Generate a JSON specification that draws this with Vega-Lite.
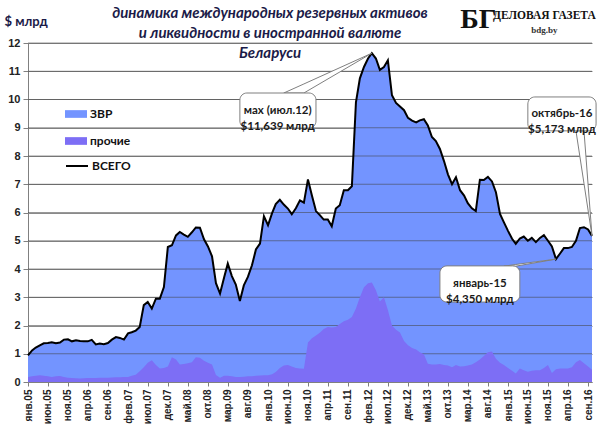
{
  "$schema": "https://vega.github.io/schema/vega-lite/v6.json",
  "width": 564,
  "height": 339,
  "autosize": {"type": "none"},
  "padding": {"left": 28, "top": 43, "right": 8, "bottom": 47},
  "background": "white",
  "title": {
    "text": ["динамика  международных резервных активов", "и ликвидности в иностранной валюте", "Беларуси"],
    "anchor": "middle",
    "dx": -40,
    "offset": -55,
    "font": "Lato",
    "fontSize": 15,
    "fontStyle": "italic",
    "fontWeight": "bold",
    "color": "#1b1b48",
    "lineHeight": 20
  },
  "datasets": {
    "series": [
      {"d": "2005-01", "total": 0.94, "other": 0.18},
      {"d": "2005-02", "total": 1.12, "other": 0.20},
      {"d": "2005-03", "total": 1.22, "other": 0.22},
      {"d": "2005-04", "total": 1.30, "other": 0.24},
      {"d": "2005-05", "total": 1.37, "other": 0.22},
      {"d": "2005-06", "total": 1.38, "other": 0.20},
      {"d": "2005-07", "total": 1.41, "other": 0.18},
      {"d": "2005-08", "total": 1.37, "other": 0.20},
      {"d": "2005-09", "total": 1.40, "other": 0.21},
      {"d": "2005-10", "total": 1.50, "other": 0.18},
      {"d": "2005-11", "total": 1.51, "other": 0.15},
      {"d": "2005-12", "total": 1.44, "other": 0.14},
      {"d": "2006-01", "total": 1.48, "other": 0.13},
      {"d": "2006-02", "total": 1.45, "other": 0.12},
      {"d": "2006-03", "total": 1.44, "other": 0.13},
      {"d": "2006-04", "total": 1.44, "other": 0.14},
      {"d": "2006-05", "total": 1.49, "other": 0.14},
      {"d": "2006-06", "total": 1.33, "other": 0.14},
      {"d": "2006-07", "total": 1.36, "other": 0.15},
      {"d": "2006-08", "total": 1.34, "other": 0.15},
      {"d": "2006-09", "total": 1.38, "other": 0.15},
      {"d": "2006-10", "total": 1.50, "other": 0.16},
      {"d": "2006-11", "total": 1.59, "other": 0.17},
      {"d": "2006-12", "total": 1.56, "other": 0.17},
      {"d": "2007-01", "total": 1.50, "other": 0.18},
      {"d": "2007-02", "total": 1.72, "other": 0.18},
      {"d": "2007-03", "total": 1.76, "other": 0.22},
      {"d": "2007-04", "total": 1.82, "other": 0.26},
      {"d": "2007-05", "total": 1.95, "other": 0.38},
      {"d": "2007-06", "total": 2.72, "other": 0.52},
      {"d": "2007-07", "total": 2.83, "other": 0.68},
      {"d": "2007-08", "total": 2.60, "other": 0.77},
      {"d": "2007-09", "total": 2.95, "other": 0.60},
      {"d": "2007-10", "total": 2.95, "other": 0.48},
      {"d": "2007-11", "total": 3.36, "other": 0.50},
      {"d": "2007-12", "total": 4.78, "other": 0.55},
      {"d": "2008-01", "total": 4.84, "other": 0.88},
      {"d": "2008-02", "total": 5.19, "other": 0.80},
      {"d": "2008-03", "total": 5.31, "other": 0.62},
      {"d": "2008-04", "total": 5.22, "other": 0.64},
      {"d": "2008-05", "total": 5.14, "other": 0.66},
      {"d": "2008-06", "total": 5.30, "other": 0.70},
      {"d": "2008-07", "total": 5.47, "other": 0.88},
      {"d": "2008-08", "total": 5.46, "other": 0.86},
      {"d": "2008-09", "total": 5.05, "other": 0.75},
      {"d": "2008-10", "total": 4.80, "other": 0.68},
      {"d": "2008-11", "total": 4.45, "other": 0.62},
      {"d": "2008-12", "total": 3.50, "other": 0.25},
      {"d": "2009-01", "total": 3.13, "other": 0.15},
      {"d": "2009-02", "total": 3.70, "other": 0.22},
      {"d": "2009-03", "total": 4.19, "other": 0.22},
      {"d": "2009-04", "total": 3.75, "other": 0.20},
      {"d": "2009-05", "total": 3.45, "other": 0.18},
      {"d": "2009-06", "total": 2.87, "other": 0.18},
      {"d": "2009-07", "total": 3.42, "other": 0.19},
      {"d": "2009-08", "total": 3.72, "other": 0.20},
      {"d": "2009-09", "total": 4.13, "other": 0.20},
      {"d": "2009-10", "total": 4.69, "other": 0.22},
      {"d": "2009-11", "total": 4.90, "other": 0.23},
      {"d": "2009-12", "total": 5.87, "other": 0.24},
      {"d": "2010-01", "total": 5.55, "other": 0.24},
      {"d": "2010-02", "total": 5.98, "other": 0.27},
      {"d": "2010-03", "total": 6.30, "other": 0.35},
      {"d": "2010-04", "total": 6.45, "other": 0.50},
      {"d": "2010-05", "total": 6.28, "other": 0.58},
      {"d": "2010-06", "total": 6.14, "other": 0.60},
      {"d": "2010-07", "total": 5.94, "other": 0.55},
      {"d": "2010-08", "total": 6.15, "other": 0.50},
      {"d": "2010-09", "total": 6.43, "other": 0.48},
      {"d": "2010-10", "total": 6.35, "other": 0.47},
      {"d": "2010-11", "total": 7.17, "other": 1.40},
      {"d": "2010-12", "total": 6.60, "other": 1.55},
      {"d": "2011-01", "total": 6.05, "other": 1.65},
      {"d": "2011-02", "total": 5.90, "other": 1.75},
      {"d": "2011-03", "total": 5.75, "other": 1.88},
      {"d": "2011-04", "total": 5.75, "other": 1.95},
      {"d": "2011-05", "total": 5.51, "other": 1.93},
      {"d": "2011-06", "total": 6.14, "other": 1.95},
      {"d": "2011-07", "total": 6.26, "other": 2.05},
      {"d": "2011-08", "total": 6.79, "other": 2.15},
      {"d": "2011-09", "total": 6.79, "other": 2.20},
      {"d": "2011-10", "total": 6.93, "other": 2.30},
      {"d": "2011-11", "total": 9.90, "other": 2.60},
      {"d": "2011-12", "total": 10.75, "other": 3.00},
      {"d": "2012-01", "total": 11.15, "other": 3.35},
      {"d": "2012-02", "total": 11.45, "other": 3.50},
      {"d": "2012-03", "total": 11.639, "other": 3.52},
      {"d": "2012-04", "total": 11.45, "other": 3.25},
      {"d": "2012-05", "total": 11.05, "other": 2.85},
      {"d": "2012-06", "total": 11.15, "other": 3.00},
      {"d": "2012-07", "total": 11.39, "other": 2.55},
      {"d": "2012-08", "total": 10.15, "other": 2.00},
      {"d": "2012-09", "total": 9.88, "other": 1.85},
      {"d": "2012-10", "total": 9.75, "other": 1.75},
      {"d": "2012-11", "total": 9.62, "other": 1.45},
      {"d": "2012-12", "total": 9.35, "other": 1.30},
      {"d": "2013-01", "total": 9.25, "other": 1.20},
      {"d": "2013-02", "total": 9.19, "other": 1.15},
      {"d": "2013-03", "total": 9.26, "other": 1.05},
      {"d": "2013-04", "total": 9.30, "other": 0.98},
      {"d": "2013-05", "total": 9.08, "other": 0.65},
      {"d": "2013-06", "total": 8.67, "other": 0.62},
      {"d": "2013-07", "total": 8.53, "other": 0.62},
      {"d": "2013-08", "total": 8.25, "other": 0.64},
      {"d": "2013-09", "total": 7.82, "other": 0.60},
      {"d": "2013-10", "total": 7.35, "other": 0.58},
      {"d": "2013-11", "total": 7.00, "other": 0.52},
      {"d": "2013-12", "total": 7.25, "other": 0.60},
      {"d": "2014-01", "total": 6.79, "other": 0.55},
      {"d": "2014-02", "total": 6.60, "other": 0.56},
      {"d": "2014-03", "total": 6.33, "other": 0.58},
      {"d": "2014-04", "total": 6.15, "other": 0.62},
      {"d": "2014-05", "total": 6.05, "other": 0.70},
      {"d": "2014-06", "total": 7.16, "other": 0.80},
      {"d": "2014-07", "total": 7.15, "other": 0.92},
      {"d": "2014-08", "total": 7.26, "other": 1.05},
      {"d": "2014-09", "total": 7.10, "other": 1.08},
      {"d": "2014-10", "total": 6.72, "other": 0.82},
      {"d": "2014-11", "total": 5.95, "other": 0.68},
      {"d": "2014-12", "total": 5.65, "other": 0.60},
      {"d": "2015-01", "total": 5.35, "other": 0.50},
      {"d": "2015-02", "total": 5.07, "other": 0.40},
      {"d": "2015-03", "total": 4.89, "other": 0.30},
      {"d": "2015-04", "total": 5.08, "other": 0.48},
      {"d": "2015-05", "total": 5.15, "other": 0.42},
      {"d": "2015-06", "total": 5.00, "other": 0.36},
      {"d": "2015-07", "total": 5.10, "other": 0.40},
      {"d": "2015-08", "total": 4.95, "other": 0.42},
      {"d": "2015-09", "total": 5.10, "other": 0.42},
      {"d": "2015-10", "total": 5.20, "other": 0.50},
      {"d": "2015-11", "total": 5.00, "other": 0.60},
      {"d": "2015-12", "total": 4.80, "other": 0.32},
      {"d": "2016-01", "total": 4.35, "other": 0.45},
      {"d": "2016-02", "total": 4.55, "other": 0.48},
      {"d": "2016-03", "total": 4.74, "other": 0.48},
      {"d": "2016-04", "total": 4.74, "other": 0.48},
      {"d": "2016-05", "total": 4.78, "other": 0.52},
      {"d": "2016-06", "total": 5.00, "other": 0.70},
      {"d": "2016-07", "total": 5.45, "other": 0.78},
      {"d": "2016-08", "total": 5.48, "other": 0.66},
      {"d": "2016-09", "total": 5.40, "other": 0.55},
      {"d": "2016-10", "total": 5.173, "other": 0.43}
    ],
    "gridlines": [
      {"d": "2005-01", "d2": "2016-10", "val": 0.982, "val2": 1.018},
      {"d": "2005-01", "d2": "2016-10", "val": 1.982, "val2": 2.018},
      {"d": "2005-01", "d2": "2016-10", "val": 2.982, "val2": 3.018},
      {"d": "2005-01", "d2": "2016-10", "val": 3.982, "val2": 4.018},
      {"d": "2005-01", "d2": "2016-10", "val": 4.982, "val2": 5.018},
      {"d": "2005-01", "d2": "2016-10", "val": 5.982, "val2": 6.018},
      {"d": "2005-01", "d2": "2016-10", "val": 6.982, "val2": 7.018},
      {"d": "2005-01", "d2": "2016-10", "val": 7.982, "val2": 8.018},
      {"d": "2005-01", "d2": "2016-10", "val": 8.982, "val2": 9.018},
      {"d": "2005-01", "d2": "2016-10", "val": 9.982, "val2": 10.018},
      {"d": "2005-01", "d2": "2016-10", "val": 10.982, "val2": 11.018},
      {"d": "2005-01", "d2": "2016-10", "val": 11.982, "val2": 12.018}
    ],
    "tails": [
      {"k": "a", "d": "2010-05", "val": 10.23, "val2": 10.23},
      {"k": "a", "d": "2010-10", "val": 10.55, "val2": 10.23},
      {"k": "a", "d": "2012-03", "val": 11.639, "val2": 11.639},
      {"k": "b", "d": "2014-12", "val": 4.1, "val2": 4.1},
      {"k": "b", "d": "2015-03", "val": 4.16, "val2": 4.1},
      {"k": "b", "d": "2016-01", "val": 4.35, "val2": 4.35},
      {"k": "c", "d": "2016-06", "val": 8.89, "val2": 8.89},
      {"k": "c", "d": "2016-08", "val": 8.89, "val2": 7.03},
      {"k": "c", "d": "2016-10", "val": 5.173, "val2": 5.173}
    ],
    "boxes": [
      {"d": "2009-06", "d2": "2011-01", "val": 10.23, "val2": 8.99},
      {"d": "2013-08", "d2": "2015-04", "val": 4.11, "val2": 2.83},
      {"d": "2015-06", "d2": "2016-11", "val": 10.09, "val2": 8.89}
    ],
    "notes": [
      {"d": "2010-03-16", "val": 9.61, "label": "мах (июл.12)\n$11,639 млрд"},
      {"d": "2014-06-01", "val": 3.47, "label": "январь-15\n$4,350 млрд"},
      {"d": "2016-02-15", "val": 9.49, "label": "октябрь-16\n$5,173 млрд"}
    ],
    "logo": [
      {"d": "2014-05-20", "val": 12.8, "label": "БГ"},
      {"d": "2015-10-05", "val": 12.96, "label": "ДЕЛОВАЯ ГАЗЕТА"},
      {"d": "2015-10-05", "val": 12.46, "label": "bdg.by"}
    ]
  },
  "encoding": {
    "x": {
      "field": "d",
      "type": "temporal",
      "scale": {"type": "utc", "nice": false, "domain": [{"year": 2005, "month": 1, "utc": true}, {"year": 2016, "month": 10, "utc": true}]},
      "axis": {
        "title": null,
        "grid": false,
        "values": [
          {"year": 2005, "month": 1, "utc": true}, {"year": 2005, "month": 6, "utc": true}, {"year": 2005, "month": 11, "utc": true},
          {"year": 2006, "month": 4, "utc": true}, {"year": 2006, "month": 9, "utc": true}, {"year": 2007, "month": 2, "utc": true},
          {"year": 2007, "month": 7, "utc": true}, {"year": 2007, "month": 12, "utc": true}, {"year": 2008, "month": 5, "utc": true},
          {"year": 2008, "month": 10, "utc": true}, {"year": 2009, "month": 3, "utc": true}, {"year": 2009, "month": 8, "utc": true},
          {"year": 2010, "month": 1, "utc": true}, {"year": 2010, "month": 6, "utc": true}, {"year": 2010, "month": 11, "utc": true},
          {"year": 2011, "month": 4, "utc": true}, {"year": 2011, "month": 9, "utc": true}, {"year": 2012, "month": 2, "utc": true},
          {"year": 2012, "month": 7, "utc": true}, {"year": 2012, "month": 12, "utc": true}, {"year": 2013, "month": 5, "utc": true},
          {"year": 2013, "month": 10, "utc": true}, {"year": 2014, "month": 3, "utc": true}, {"year": 2014, "month": 8, "utc": true},
          {"year": 2015, "month": 1, "utc": true}, {"year": 2015, "month": 6, "utc": true}, {"year": 2015, "month": 11, "utc": true},
          {"year": 2016, "month": 4, "utc": true}, {"year": 2016, "month": 9, "utc": true}
        ],
        "labelExpr": "['янв','фев','мар','апр','май','июн','июл','авг','сен','окт','ноя','дек'][utcmonth(datum.value)] + '.' + utcFormat(datum.value, '%y')",
        "labelAngle": 270,
        "labelOverlap": false,
        "labelFont": "Liberation Sans",
        "labelFontSize": 10,
        "labelFontWeight": "bold",
        "labelColor": "#222222",
        "labelPadding": 3,
        "tickSize": 4,
        "tickColor": "#808080",
        "domainColor": "#808080"
      }
    },
    "y": {
      "field": "val",
      "type": "quantitative",
      "scale": {"domain": [0, 12], "nice": false},
      "axis": {
        "title": "$ млрд",
        "titleAngle": 0,
        "titleAlign": "left",
        "titleBaseline": "middle",
        "titleX": -24,
        "titleY": -22,
        "titleFont": "Lato",
        "titleFontSize": 13,
        "titleFontWeight": "bold",
        "titleColor": "#1b1b48",
        "values": [0, 1, 2, 3, 4, 5, 6, 7, 8, 9, 10, 11, 12],
        "grid": true,
        "gridOpacity": 1,
        "labelOverlap": false,
        "labelFont": "Liberation Sans",
        "labelFontSize": 11,
        "labelFontWeight": "bold",
        "labelColor": "#222222",
        "labelPadding": 3,
        "tickSize": 5,
        "tickColor": "#808080",
        "domainColor": "#808080",
        "gridColor": "#8a8a8a",
        "gridWidth": 1
      }
    }
  },
  "layer": [
    {
      "data": {"name": "series"},
      "transform": [
        {"fold": ["total", "other"], "as": ["key", "val"]},
        {"filter": "datum.key == 'total'"}
      ],
      "mark": {"type": "area", "opacity": 1},
      "encoding": {
        "fill": {
          "datum": "ЗВР",
          "type": "nominal",
          "scale": {"domain": ["ЗВР", "прочие"], "range": ["#7394ff", "#7d6ef5"]},
          "legend": {
            "orient": "none",
            "legendX": 37,
            "legendY": 60,
            "title": null,
            "padding": 0,
            "symbolType": "M-1,-0.35H1V0.35H-1Z",
            "symbolSize": 484,
            "symbolOpacity": 1,
            "symbolStrokeWidth": 0,
            "rowPadding": 10,
            "labelOffset": 3,
            "labelFont": "Lato",
            "labelFontSize": 12,
            "labelFontWeight": "bold",
            "labelColor": "#111111"
          }
        }
      }
    },
    {
      "data": {"name": "gridlines"},
      "mark": {"type": "rect", "fill": "#444444", "opacity": 0.55},
      "encoding": {
        "x2": {"field": "d2"},
        "y2": {"field": "val2"}
      }
    },
    {
      "data": {"name": "series"},
      "transform": [
        {"fold": ["total", "other"], "as": ["key", "val"]},
        {"filter": "datum.key == 'other'"}
      ],
      "mark": {"type": "area", "opacity": 1},
      "encoding": {
        "fill": {"datum": "прочие", "type": "nominal"}
      }
    },
    {
      "data": {"name": "series"},
      "transform": [
        {"fold": ["total", "other"], "as": ["key", "val"]},
        {"filter": "datum.key == 'total'"}
      ],
      "mark": {"type": "line", "strokeWidth": 2},
      "encoding": {
        "stroke": {
          "datum": "ВСЕГО",
          "type": "nominal",
          "scale": {"domain": ["ВСЕГО"], "range": ["#000000"]},
          "legend": {
            "orient": "none",
            "legendX": 37,
            "legendY": 111,
            "title": null,
            "padding": 0,
            "symbolType": "stroke",
            "symbolSize": 484,
            "symbolStrokeWidth": 2,
            "labelOffset": 3,
            "labelFont": "Lato",
            "labelFontSize": 12,
            "labelFontWeight": "bold",
            "labelColor": "#111111"
          }
        }
      }
    },
    {
      "data": {"name": "tails"},
      "mark": {"type": "area", "fill": "white", "stroke": "#7f7f7f", "strokeWidth": 1, "opacity": 1},
      "encoding": {
        "y2": {"field": "val2"},
        "detail": {"field": "k"}
      }
    },
    {
      "data": {"name": "boxes"},
      "mark": {"type": "rect", "fill": "white", "stroke": "#7f7f7f", "strokeWidth": 1, "cornerRadius": 7},
      "encoding": {
        "x2": {"field": "d2"},
        "y2": {"field": "val2"}
      }
    },
    {
      "data": {"name": "notes"},
      "mark": {"type": "text", "lineBreak": "\n", "lineHeight": 16, "font": "Lato", "fontSize": 11.5, "fontWeight": "bold", "color": "#1a1a1a", "align": "center", "baseline": "middle"},
      "encoding": {
        "text": {"field": "label"}
      }
    },
    {
      "data": {"name": "logo"},
      "transform": [{"filter": "datum.label == 'БГ'"}],
      "mark": {"type": "text", "font": "Liberation Serif", "fontSize": 28, "fontWeight": "bold", "color": "#111111", "align": "center", "baseline": "middle"},
      "encoding": {"text": {"field": "label"}}
    },
    {
      "data": {"name": "logo"},
      "transform": [{"filter": "datum.label == 'ДЕЛОВАЯ ГАЗЕТА'"}],
      "mark": {"type": "text", "font": "Liberation Serif", "fontSize": 11.5, "fontWeight": "bold", "color": "#111111", "align": "center", "baseline": "middle"},
      "encoding": {"text": {"field": "label"}}
    },
    {
      "data": {"name": "logo"},
      "transform": [{"filter": "datum.label == 'bdg.by'"}],
      "mark": {"type": "text", "font": "Liberation Serif", "fontSize": 9, "fontWeight": "bold", "color": "#333333", "align": "center", "baseline": "middle"},
      "encoding": {"text": {"field": "label"}}
    }
  ],
  "config": {
    "view": {"stroke": null},
    "axisY": {"grid": true, "labelOverlap": false},
    "axisX": {"labelOverlap": false}
  }
}
